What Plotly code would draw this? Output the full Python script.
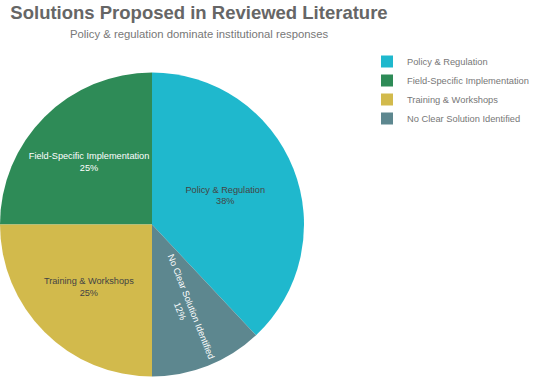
import plotly.graph_objects as go

labels = ["Policy & Regulation", "Field-Specific Implementation",
          "Training & Workshops", "No Clear Solution Identified"]
values = [38, 25, 25, 12]
colors = ["#1FB8CD", "#2E8B57", "#D2BA4C", "#5D878F"]

title_text = "Solutions Proposed in Reviewed Literature"
subtitle_text = "Policy & regulation dominate institutional responses"

W, H = 534, 380
T, B = 52, 2
PH = H - T - B  # plot height in px

fig = go.Figure(go.Pie(
    labels=labels,
    values=values,
    marker=dict(colors=colors),
    sort=False,
    direction="counterclockwise",
    rotation=0,
    textinfo="label+percent",
    textposition="inside",
    insidetextorientation="auto",
    textfont=dict(size=9.2),
    domain=dict(x=[0, 304 / W], y=[0, 307 / PH]),
    hoverinfo="label+percent",
))

fig.update_layout(
    width=W, height=H,
    margin=dict(l=0, r=0, t=T, b=B),
    paper_bgcolor="white",
    font=dict(family="Liberation Sans, Arial, sans-serif", color="#666"),
    title=dict(
        text=f"<b>{title_text}</b>",
        x=199 / W, xanchor="center", xref="container",
        y=1 - 13 / H, yanchor="middle", yref="container",
        font=dict(size=18.5, color="#666"),
    ),
    annotations=[dict(
        text=subtitle_text, x=199 / W, y=(H - B - 34) / PH,
        xref="paper", yref="paper", xanchor="center", yanchor="middle",
        showarrow=False, font=dict(size=11.3, color="#777"),
    )],
    legend=dict(
        x=1, xanchor="right", y=1 + 5 / PH, yanchor="top",
        font=dict(size=9.3, color="#777"),
    ),
)

fig.write_html("out.html")
